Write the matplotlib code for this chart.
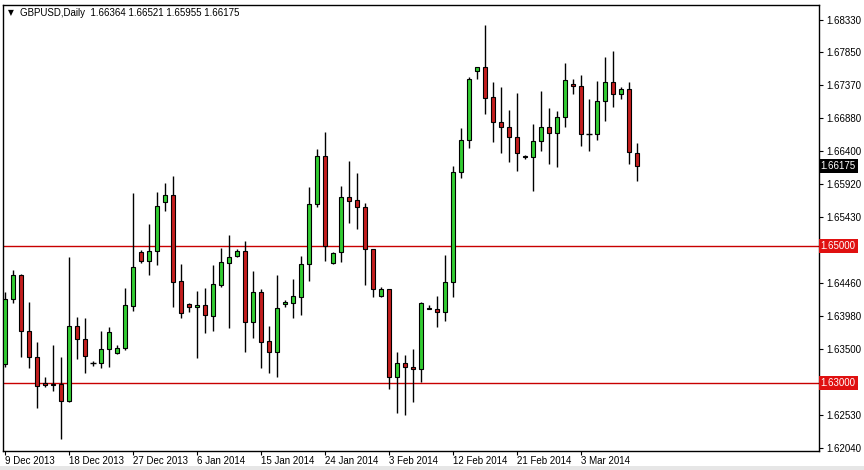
import matplotlib
matplotlib.use("Agg")
import matplotlib.pyplot as plt
from matplotlib.patches import Rectangle

plt.rcParams["font.family"] = ["Liberation Sans", "DejaVu Sans"]

# GBPUSD daily candles, 9 Dec 2013 .. 7 Mar 2014
opens = [
    1.63272, 1.64222, 1.64579, 1.63757, 1.63371, 1.62998, 1.62975, 1.62979,
    1.62733, 1.63830, 1.63635, 1.63291, 1.63283, 1.63488, 1.63438, 1.63503,
    1.64128, 1.64916, 1.64789, 1.64927, 1.65655, 1.65753, 1.64491, 1.64153,
    1.64105, 1.64138, 1.63981, 1.64432, 1.64759, 1.64862, 1.64935, 1.63884,
    1.64325, 1.63610, 1.63453, 1.64149, 1.64172, 1.64251, 1.64736, 1.65617,
    1.66326, 1.64759, 1.64912, 1.65728, 1.65680, 1.65573, 1.64956, 1.64275,
    1.64369, 1.63077, 1.63283, 1.63224, 1.63194, 1.64090, 1.64075, 1.64040,
    1.64472, 1.66086, 1.66560, 1.67578, 1.67628, 1.67187, 1.66820, 1.66756,
    1.66609, 1.66326, 1.66307, 1.66541, 1.66747, 1.66659, 1.66903, 1.67378,
    1.67349, 1.66644, 1.66644, 1.67133, 1.67408, 1.67231, 1.67305, 1.66364,
]
highs = [
    1.64333, 1.64652, 1.64593, 1.64187, 1.63600, 1.63086, 1.63551, 1.63371,
    1.64847, 1.63967, 1.63952, 1.63321, 1.63761, 1.63820, 1.63551, 1.64383,
    1.65787, 1.64946, 1.65327, 1.65802, 1.65934, 1.66032, 1.64740, 1.64163,
    1.64348, 1.64383, 1.64725, 1.64971, 1.65166, 1.64960, 1.65078, 1.64637,
    1.64369, 1.63830, 1.64579, 1.64212, 1.64516, 1.64858, 1.65875, 1.66424,
    1.66682, 1.64921, 1.65890, 1.66252, 1.66080, 1.65631, 1.64956, 1.64398,
    1.64369, 1.63444, 1.63404, 1.63488, 1.64187, 1.64138, 1.64270, 1.64872,
    1.66179, 1.66732, 1.67490, 1.67628, 1.68249, 1.67416, 1.67334, 1.67001,
    1.67246, 1.66340, 1.66795, 1.67280, 1.67026, 1.66991, 1.67695, 1.67452,
    1.67515, 1.67158, 1.67427, 1.67775, 1.67867, 1.67334, 1.67416, 1.66521,
]
lows = [
    1.63232, 1.64172, 1.63379, 1.63209, 1.62622, 1.62939, 1.62880, 1.62167,
    1.62714, 1.63350, 1.63144, 1.63243, 1.63209, 1.63224, 1.63419, 1.63478,
    1.64055, 1.64759, 1.64579, 1.64725, 1.65523, 1.64105, 1.63943, 1.64040,
    1.63356, 1.63732, 1.63761, 1.64407, 1.63796, 1.64839, 1.63453, 1.63658,
    1.63218, 1.63136, 1.63086, 1.64113, 1.63952, 1.63992, 1.64495, 1.65573,
    1.64789, 1.64740, 1.64774, 1.65346, 1.65250, 1.64432, 1.64260, 1.64260,
    1.62901, 1.62549, 1.62524, 1.62719, 1.63012, 1.64075, 1.63820, 1.63908,
    1.64251, 1.65998, 1.66439, 1.67452, 1.66942, 1.66536, 1.66365, 1.66242,
    1.66110, 1.66277, 1.65816, 1.66403, 1.66208, 1.66160, 1.66756, 1.67236,
    1.66479, 1.66403, 1.66560, 1.66844, 1.67049, 1.67158, 1.66208, 1.65955,
]
closes = [
    1.64222, 1.64579, 1.63757, 1.63371, 1.62954, 1.62959, 1.62965, 1.62733,
    1.63830, 1.63635, 1.63394, 1.63291, 1.63488, 1.63738, 1.63503, 1.64138,
    1.64692, 1.64789, 1.64927, 1.65592, 1.65753, 1.64480, 1.64025, 1.64105,
    1.64138, 1.63992, 1.64442, 1.64765, 1.64839, 1.64935, 1.63884, 1.64325,
    1.63600, 1.63453, 1.64090, 1.64187, 1.64270, 1.64740, 1.65621, 1.66326,
    1.65004, 1.64906, 1.65728, 1.65669, 1.65573, 1.64956, 1.64369, 1.64369,
    1.63077, 1.63283, 1.63224, 1.63194, 1.64163, 1.64085, 1.64040, 1.64472,
    1.66086, 1.66560, 1.67452, 1.67628, 1.67181, 1.66820, 1.66756, 1.66609,
    1.66365, 1.66307, 1.66541, 1.66747, 1.66659, 1.66903, 1.67437, 1.67349,
    1.66644, 1.66644, 1.67133, 1.67408, 1.67231, 1.67305, 1.66380, 1.66175,
]

date_labels = ["9 Dec 2013", "18 Dec 2013", "27 Dec 2013", "6 Jan 2014",
               "15 Jan 2014", "24 Jan 2014", "3 Feb 2014", "12 Feb 2014",
               "21 Feb 2014", "3 Mar 2014"]
price_ticks = [1.68330, 1.67850, 1.67370, 1.66880, 1.66400, 1.65920, 1.65430,
               1.64460, 1.63980, 1.63500, 1.62530, 1.62040]
levels = [1.65000, 1.63000]
last_price = 1.66175
title = "GBPUSD,Daily  1.66364 1.66521 1.65955 1.66175"

BULL = "#32cd32"
BEAR = "#c41e1e"
LEVEL = "#c80000"

fig = plt.figure(figsize=(8.64, 4.70), dpi=100, facecolor="white")
ax = fig.add_axes([3 / 864, 19.3 / 470, 816 / 864, 445.7 / 470])
ax.set_facecolor("white")

n = len(opens)
xs = list(range(n))
ax.vlines(xs, lows, highs, color="black", linewidth=1, zorder=2)
for i in xs:
    o, c = opens[i], closes[i]
    color = BULL if c > o else BEAR
    lo, hi = min(o, c), max(o, c)
    if hi - lo < 0.00003:
        # doji: just a short horizontal stroke
        ax.hlines(o, i - 0.32, i + 0.32, color="black", linewidth=1, zorder=3)
    else:
        ax.add_patch(Rectangle((i - 0.3, lo), 0.6, hi - lo, facecolor=color,
                               edgecolor="black", linewidth=0.8, zorder=3))

for lvl in levels:
    ax.axhline(lvl, color=LEVEL, linewidth=1, zorder=1)

ax.set_xlim(-0.25, 101.75)
ax.set_ylim(1.62000, 1.68543)

ax.set_xticks(range(0, 8 * len(date_labels), 8))
ax.set_xticklabels(date_labels, ha="left", fontsize=7)
ax.yaxis.tick_right()
ax.set_yticks(price_ticks)
ax.set_yticklabels([f"{p:.5f}" for p in price_ticks], fontsize=7)
ax.tick_params(axis="x", length=3, width=0.8, pad=1)
ax.tick_params(axis="y", length=3, width=0.8, pad=2)
for s in ax.spines.values():
    s.set_linewidth(1)
    s.set_color("black")

ytrans = ax.get_yaxis_transform()
for lvl in levels:
    ax.text(1.002, lvl, f"{lvl:.5f}", transform=ytrans, ha="left", va="center",
            fontsize=7, color="white",
            bbox=dict(facecolor="#e01010", edgecolor="none", pad=1.5))
ax.text(1.002, last_price, f"{last_price:.5f}", transform=ytrans, ha="left",
        va="center", fontsize=7, color="white",
        bbox=dict(facecolor="black", edgecolor="none", pad=1.5))

ax.text(0.006, 0.983, "\u25bc", transform=ax.transAxes, fontsize=5.5,
        va="center", ha="left", family="DejaVu Sans")
ax.text(0.021, 0.983, title, transform=ax.transAxes, fontsize=7,
        va="center", ha="left")

fig.patches.append(Rectangle((0, 0), 1, 4 / 470, transform=fig.transFigure,
                             facecolor="#e6e6e6", edgecolor="none"))

fig.savefig("out.png", dpi=100, facecolor="white")
